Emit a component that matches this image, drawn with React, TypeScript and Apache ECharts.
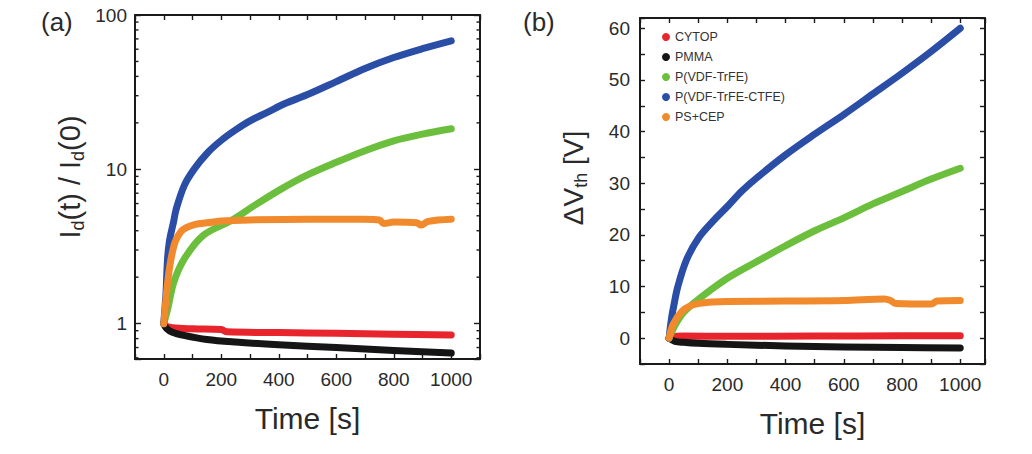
import React, { useEffect, useRef } from 'react';
import * as echarts from 'echarts';

const FONT = '"Liberation Sans", Arial, Helvetica, sans-serif';
const TXT = '#2a2a2a';

const seriesNames = ['CYTOP', 'PMMA', 'P(VDF-TrFE)', 'P(VDF-TrFE-CTFE)', 'PS+CEP'];
const seriesColors = ['#e8242c', '#151515', '#6cbf3c', '#2a4ea6', '#f08a2c'];

// ---- Panel (a): Id(t)/Id(0), log scale ----
const aCytopT = [0, 5, 30, 100, 200, 220, 400, 600, 800, 1000];
const aCytopV = [1.0, 0.97, 0.94, 0.925, 0.915, 0.885, 0.875, 0.865, 0.855, 0.845];
const aPmmaT = [0, 10, 30, 70, 150, 250, 400, 600, 800, 1000];
const aPmmaV = [1.0, 0.93, 0.88, 0.84, 0.79, 0.76, 0.73, 0.7, 0.67, 0.645];
const aTrfeT = [0, 14, 35, 72, 137, 236, 317, 411, 500, 600, 700, 800, 900, 1000];
const aTrfeV = [1.0, 1.25, 1.86, 2.64, 3.73, 4.67, 5.86, 7.5, 9.2, 11.1, 13.2, 15.3, 16.9, 18.3];
const aCtfeT = [0, 4, 8, 11, 14, 18, 23, 34, 43, 72, 107, 154, 200, 250, 300, 360, 420, 500, 600, 700, 800, 900, 1000];
const aCtfeV = [1.0, 1.25, 1.6, 2.2, 2.75, 3.25, 3.7, 4.55, 5.5, 7.9, 10.1, 12.9, 15.4, 18.0, 20.6, 23.4, 26.6, 30.5, 37, 45, 53, 60.5, 68];
const aCepT = [0, 5, 10, 20, 30, 40, 60, 80, 110, 150, 200, 300, 500, 700, 750, 765, 800, 880, 895, 920, 1000];
const aCepV = [1.0, 1.25, 1.6, 2.3, 2.9, 3.4, 3.95, 4.2, 4.4, 4.5, 4.62, 4.7, 4.75, 4.75, 4.7, 4.45, 4.55, 4.5, 4.35, 4.6, 4.75];

// ---- Panel (b): ΔVth [V] ----
const bCytopT = [0, 10, 50, 200, 500, 800, 1000];
const bCytopV = [0, 0.3, 0.4, 0.35, 0.4, 0.45, 0.45];
const bPmmaT = [0, 20, 50, 100, 200, 400, 600, 800, 1000];
const bPmmaV = [0, -0.6, -0.8, -1.0, -1.2, -1.5, -1.7, -1.8, -1.9];
const bTrfeT = [0, 20, 50, 100, 200, 300, 400, 500, 600, 700, 800, 900, 1000];
const bTrfeV = [0, 2.5, 5, 7.5, 11.6, 14.8, 17.9, 20.8, 23.3, 26.0, 28.4, 30.8, 32.9];
const bCtfeT = [0, 5, 10, 15, 30, 60, 100, 150, 200, 250, 300, 400, 500, 600, 700, 800, 900, 1000];
const bCtfeV = [0, 2.5, 4.5, 6, 10, 15.2, 19.3, 22.6, 25.5, 28.5, 31.0, 35.5, 39.5, 43.3, 47.3, 51.3, 55.5, 60.0];
const bCepT = [0, 5, 10, 20, 30, 50, 75, 100, 150, 200, 400, 600, 740, 760, 780, 900, 920, 1000];
const bCepV = [0, 1.2, 2.2, 3.3, 4.2, 5.5, 6.3, 6.7, 7.0, 7.1, 7.2, 7.3, 7.6, 7.3, 6.7, 6.6, 7.2, 7.3];

// ---- tick labels ----
const xTickLabels = [0, 200, 400, 600, 800, 1000];
const aYTickLabels = [1, 10, 100];
const bYTickLabels = [0, 10, 20, 30, 40, 50, 60];
const aMinorTickValues = [0.6, 0.7, 0.8, 0.9, 2, 3, 4, 5, 6, 7, 8, 9, 20, 30, 40, 50, 60, 70, 80, 90];

const pairs = (t: number[], v: number[]) => t.map((x, i) => [x, v[i]]);

const aData = [pairs(aCytopT, aCytopV), pairs(aPmmaT, aPmmaV), pairs(aTrfeT, aTrfeV), pairs(aCtfeT, aCtfeV), pairs(aCepT, aCepV)];
const bData = [pairs(bCytopT, bCytopV), pairs(bPmmaT, bPmmaV), pairs(bTrfeT, bTrfeV), pairs(bCtfeT, bCtfeV), pairs(bCepT, bCepV)];

const AX = '#1a1a1a';
const axisLineStyle = { color: AX, width: 2 };
const tickStyle = { color: AX, width: 1.4 };

function xAxisDef(grid: number, max: number, top: boolean) {
  return {
    type: 'value', gridIndex: grid, min: -100, max, interval: 100,
    position: top ? 'top' : 'bottom',
    axisLine: { onZero: false, lineStyle: axisLineStyle },
    axisTick: { inside: true, length: 5, lineStyle: tickStyle },
    splitLine: { show: false },
    axisLabel: top ? { show: false } : {
      fontSize: 19, fontFamily: FONT, color: TXT, margin: 11,
      formatter: (v: number) => (xTickLabels.indexOf(Math.round(v)) >= 0 ? String(Math.round(v)) : ''),
    },
    name: top ? '' : 'Time [s]',
    nameLocation: 'middle', nameGap: 44,
    nameTextStyle: { fontSize: 30, fontFamily: FONT, color: TXT },
  };
}

export default function App() {
  const ref = useRef<HTMLDivElement>(null);
  useEffect(() => {
    document.body.style.margin = '0';
    if (!ref.current) return;
    const chart = echarts.init(ref.current, undefined, { renderer: 'svg' });
    const aLabelFmt = (v: number) => {
      const hit = aYTickLabels.find((t) => Math.abs(v - t) / t < 1e-6);
      return hit !== undefined ? String(hit) : '';
    };
    const bLabelFmt = (v: number) => (bYTickLabels.indexOf(Math.round(v)) >= 0 && Math.abs(v - Math.round(v)) < 1e-6 ? String(Math.round(v)) : '');
    const mk = (n: string, i: number, data: number[][], xi: number, yi: number) => ({
      type: 'line', name: n, data, xAxisIndex: xi, yAxisIndex: yi,
      showSymbol: false, smooth: 0.35,
      lineStyle: { width: 7, color: seriesColors[i], cap: 'round', join: 'round' },
      itemStyle: { color: seriesColors[i] },
    });
    const series: any[] = [];
    seriesNames.forEach((n, i) => series.push(mk(n, i, aData[i], 0, 0)));
    seriesNames.forEach((n, i) => series.push(mk(n, i, bData[i], 2, 2)));
    const option: any = {
      animation: false,
      backgroundColor: '#fff',
      title: [
        { text: '(a)', left: 36, top: 4, textStyle: { fontSize: 26, fontWeight: 'normal', fontFamily: FONT, color: TXT } },
        { text: '(b)', left: 518, top: 4, textStyle: { fontSize: 26, fontWeight: 'normal', fontFamily: FONT, color: TXT } },
      ],
      legend: {
        data: seriesNames, orient: 'vertical', left: 662, top: 30, padding: 0,
        itemWidth: 8, itemHeight: 8, itemGap: 6, icon: 'circle',
        textStyle: { fontSize: 12.5, fontFamily: FONT, color: '#333', lineHeight: 14 },
      },
      grid: [
        { left: 135, top: 15, width: 345, height: 344 },
        { left: 640, top: 18, width: 345, height: 346 },
      ],
      xAxis: [xAxisDef(0, 1100, false), xAxisDef(0, 1100, true), xAxisDef(1, 1085, false), xAxisDef(1, 1085, true)],
      yAxis: [
        {
          type: 'log', logBase: 10, gridIndex: 0, min: 0.59, max: 100, position: 'left',
          axisLine: { onZero: false, lineStyle: axisLineStyle },
          axisTick: { inside: true, length: 6, lineStyle: tickStyle },
          splitLine: { show: false },
          axisLabel: { fontSize: 19, fontFamily: FONT, color: TXT, margin: 8, formatter: aLabelFmt },
          name: '{m|I}{s|d}{m|(t) / I}{s|d}{m|(0)}', nameLocation: 'middle', nameGap: 48, nameRotate: 90,
          nameTextStyle: {
            padding: [0, 0, 0, 20],
            rich: {
              m: { fontSize: 29, fontFamily: FONT, color: TXT, lineHeight: 34 },
              s: { fontSize: 18, fontFamily: FONT, color: TXT, lineHeight: 14, verticalAlign: 'bottom' },
            },
          },
        },
        {
          type: 'log', logBase: 10, gridIndex: 0, min: 0.59, max: 100, position: 'right',
          axisLine: { onZero: false, lineStyle: axisLineStyle },
          axisTick: { inside: true, length: 6, lineStyle: tickStyle },
          splitLine: { show: false }, axisLabel: { show: false },
        },
        {
          type: 'value', gridIndex: 1, min: -5, max: 62, interval: 5, position: 'left',
          axisLine: { onZero: false, lineStyle: axisLineStyle },
          axisTick: { inside: true, length: 5, lineStyle: tickStyle },
          splitLine: { show: false },
          axisLabel: { fontSize: 19, fontFamily: FONT, color: TXT, margin: 10, formatter: bLabelFmt },
          name: '{m|ΔV}{s|th}{m| [V]}', nameLocation: 'middle', nameGap: 50, nameRotate: 90,
          nameTextStyle: {
            padding: [0, 0, 0, 26],
            rich: {
              m: { fontSize: 28, fontFamily: FONT, color: TXT, lineHeight: 34 },
              s: { fontSize: 18, fontFamily: FONT, color: TXT, lineHeight: 14, verticalAlign: 'bottom' },
            },
          },
        },
        {
          type: 'value', gridIndex: 1, min: -5, max: 62, interval: 5, position: 'right',
          axisLine: { onZero: false, lineStyle: axisLineStyle },
          axisTick: { inside: true, length: 5, lineStyle: tickStyle },
          splitLine: { show: false }, axisLabel: { show: false },
        },
      ],
      series,
    };
    chart.setOption(option);

    // minor ticks of the log axis, positioned through the axis scale
    const xl = chart.convertToPixel({ xAxisIndex: 0 }, -100) as number;
    const xr = chart.convertToPixel({ xAxisIndex: 0 }, 1100) as number;
    const graphic: any[] = [];
    aMinorTickValues.forEach((v) => {
      const y = chart.convertToPixel({ yAxisIndex: 0 }, v) as number;
      graphic.push({ type: 'line', shape: { x1: xl, y1: y, x2: xl + 3.5, y2: y }, style: { stroke: AX, lineWidth: 1.4 }, silent: true });
      graphic.push({ type: 'line', shape: { x1: xr, y1: y, x2: xr - 3.5, y2: y }, style: { stroke: AX, lineWidth: 1.4 }, silent: true });
    });
    chart.setOption({ graphic });

    return () => chart.dispose();
  }, []);
  return <div ref={ref} style={{ width: 1032, height: 454 }} />;
}
